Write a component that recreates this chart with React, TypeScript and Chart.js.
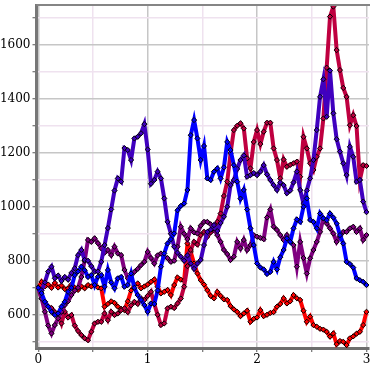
import React, { useEffect, useRef } from "react";
import { Chart, registerables } from "chart.js";

Chart.register(...registerables);

const pointCount = 100;
const xValues = Array.from({ length: pointCount }, (_, i) => (i * 3) / (pointCount - 1));

const redSeries = [
  700, 722, 705, 712, 700, 718, 701, 708, 695, 698,
  712, 700, 692, 705, 698, 710, 705, 716, 701, 698,
  630, 640, 650, 644, 630, 622, 617, 650, 690, 710,
  716, 698, 705, 712, 722, 731, 704, 679, 685, 692,
  673, 710, 738, 730, 726, 864, 833, 790, 753, 728,
  712, 691, 670, 661, 685, 670, 657, 655, 632, 620,
  611, 595, 605, 615, 574, 585, 590, 617, 595, 600,
  607, 610, 630, 640, 661, 642, 650, 673, 661, 655,
  615, 574, 593, 562, 556, 548, 545, 537, 519, 531,
  491, 503, 500, 488, 513, 520, 530, 537, 562, 611,
];

const crimsonSeries = [
  700, 660, 648, 630, 625, 610, 599, 568, 611, 590,
  599, 560, 540, 525, 513, 506, 537, 568, 574, 574,
  605, 580, 611, 599, 605, 617, 624, 610, 635, 648,
  640, 661, 655, 670, 685, 640, 600, 562, 568, 624,
  630, 625, 642, 660, 704, 780, 840, 870, 860, 895,
  907, 889, 905, 914, 944, 975, 1040, 1093, 1198, 1284,
  1300, 1309, 1290, 1179, 1142, 1240, 1284, 1232, 1278, 1311,
  1311, 1216, 1173, 1105, 1175, 1148, 1155, 1161, 1167, 1111,
  1259, 1216, 1161, 1136, 1185, 1216, 1327, 1515, 1704, 1741,
  1580, 1506, 1440, 1407, 1302, 1339, 1299, 1099, 1154, 1151,
];

const purpleSeries = [
  700, 660, 611, 560, 531, 562, 587, 611, 636, 650,
  673, 690, 700, 740, 800, 877, 870, 883, 865, 846,
  830, 840, 821, 852, 827, 821, 766, 735, 745, 759,
  770, 784, 796, 833, 810, 790, 820, 827, 815, 810,
  796, 800, 852, 926, 900, 880, 920, 905, 901, 930,
  944, 944, 935, 920, 895, 870, 840, 825, 803, 815,
  870, 846, 877, 840, 858, 895, 889, 885, 880, 960,
  990, 926, 914, 895, 877, 895, 870, 858, 778, 870,
  810, 753, 809, 840, 870, 907, 957, 938, 920, 901,
  870, 889, 907, 907, 920, 926, 907, 920, 877, 895,
];

const indigoSeries = [
  700, 690, 720, 760, 778, 735, 745, 725, 740, 730,
  755, 772, 821, 840, 803, 800, 780, 760, 760, 796,
  858, 921, 990, 1060, 1105, 1093, 1217, 1210, 1173, 1253,
  1259, 1272, 1306, 1212, 1085, 1099, 1130, 1105, 1031, 944,
  900, 852, 830, 815, 800, 820, 790, 770, 790, 803,
  858, 907, 915, 932, 910, 940, 963, 1000, 1080, 1099,
  1140, 1173, 1190, 1111, 1117, 1125, 1117, 1130, 1154, 1120,
  1099, 1080, 1062, 1090, 1080, 1050, 1060, 1090, 1130, 1062,
  1012, 1060, 1105, 1173, 1284, 1407, 1472, 1333, 1504, 1346,
  1250, 1204, 1161, 1117, 1222, 1185, 1093, 1099, 1019, 980,
];

const blueSeries = [
  700, 680, 648, 630, 611, 599, 605, 630, 648, 685,
  700, 747, 760, 778, 765, 740, 747, 710, 741, 747,
  704, 766, 720, 698, 735, 740, 704, 710, 753, 700,
  673, 655, 636, 611, 642, 640, 690, 778, 827, 864,
  880, 901, 987, 1003, 1012, 1062, 1265, 1321, 1253, 1173,
  1225, 1105, 1099, 1130, 1142, 1105, 1146, 1240, 1210, 1154,
  1093, 1030, 1062, 990, 920, 858, 790, 775, 768, 751,
  759, 796, 768, 813, 840, 883, 870, 920, 953, 944,
  1000, 1031, 951, 944, 920, 975, 957, 950, 975, 960,
  938, 895, 864, 796, 788, 775, 735, 728, 722, 710,
];

const seriesList = [redSeries, crimsonSeries, purpleSeries, indigoSeries, blueSeries];
const seriesColors = ["rgb(255,0,0)", "rgb(191,0,64)", "rgb(128,0,128)", "rgb(64,0,191)", "rgb(0,0,255)"];

const xTickValues = [0, 0.5, 1, 1.5, 2, 2.5, 3];
const xLabelValues = [0, 1, 2, 3];
const yTickValues = [500, 600, 700, 800, 900, 1000, 1100, 1200, 1300, 1400, 1500, 1600, 1700];
const yLabelValues = [600, 800, 1000, 1200, 1400, 1600];

const tickFont = { family: "'DejaVu Serif', serif", size: 12 };

const framePlugin = {
  id: "frameTop",
  afterDatasetsDraw(chart: any) {
    const { ctx, chartArea } = chart;
    ctx.save();
    ctx.strokeStyle = "#858585";
    ctx.lineWidth = 2;
    ctx.beginPath();
    ctx.moveTo(chartArea.left, chartArea.top);
    ctx.lineTo(chart.width, chartArea.top);
    ctx.stroke();
    ctx.restore();
  },
};

export default function App() {
  const canvasRef = useRef<HTMLCanvasElement | null>(null);

  useEffect(() => {
    if (!canvasRef.current) return;
    const datasets = seriesList.map((values, k) => ({
      label: "series" + k,
      data: values.map((v, i) => ({ x: xValues[i], y: v })),
      borderColor: seriesColors[k],
      backgroundColor: seriesColors[k],
      borderWidth: 4,
      pointStyle: "rectRot",
      pointRadius: 2.6,
      pointBorderWidth: 1,
      pointBorderColor: "#000",
      pointBackgroundColor: seriesColors[k],
      tension: 0,
      order: seriesList.length - k,
    }));

    const chart = new Chart(canvasRef.current, {
      type: "line",
      data: { datasets },
      plugins: [framePlugin],
      options: {
        animation: false,
        responsive: true,
        maintainAspectRatio: false,
        layout: { autoPadding: false, padding: { top: 5, right: 1, left: 0, bottom: 0 } },
        plugins: { legend: { display: false }, tooltip: { enabled: false } },
        scales: {
          x: {
            type: "linear",
            min: -0.016,
            max: 3.023,
            afterBuildTicks: (s: any) => {
              s.ticks = xTickValues.map((v) => ({ value: v }));
            },
            afterFit: (s: any) => {
              s.height = 22;
              s.paddingLeft = 0;
              s.paddingRight = 0;
            },
            grid: {
              color: (c: any) =>
                c.tick && Number.isInteger(c.tick.value) ? "#c6c6c6" : "#efe2ef",
              lineWidth: 1.5,
              tickLength: 4,
              tickColor: "#555",
              tickWidth: 1,
            },
            border: { color: "#6e6e6e", width: 3 },
            ticks: {
              autoSkip: false,
              maxRotation: 0,
              padding: 1,
              color: "#000",
              font: tickFont,
              callback: (v: any) => (xLabelValues.includes(Number(v)) ? String(v) : ""),
            },
          },
          y: {
            type: "linear",
            min: 477,
            max: 1747,
            afterBuildTicks: (s: any) => {
              s.ticks = yTickValues.map((v) => ({ value: v }));
            },
            afterFit: (s: any) => {
              s.width = 36.5;
              s.paddingTop = 0;
              s.paddingBottom = 0;
            },
            grid: {
              color: (c: any) =>
                c.tick && c.tick.value % 200 === 0 ? "#c6c6c6" : "#efe2ef",
              lineWidth: 1.5,
              tickLength: 4,
              tickColor: "#555",
              tickWidth: 1,
            },
            border: { color: "#777", width: 3 },
            ticks: {
              autoSkip: false,
              padding: 2,
              color: "#000",
              font: tickFont,
              callback: (v: any) => (yLabelValues.includes(Number(v)) ? String(v) : ""),
            },
          },
        },
      },
    } as any);
    return () => chart.destroy();
  }, []);

  return (
    <div style={{ position: "absolute", left: 0, top: 0, width: 370, height: 370 }}>
      <canvas ref={canvasRef} />
    </div>
  );
}
